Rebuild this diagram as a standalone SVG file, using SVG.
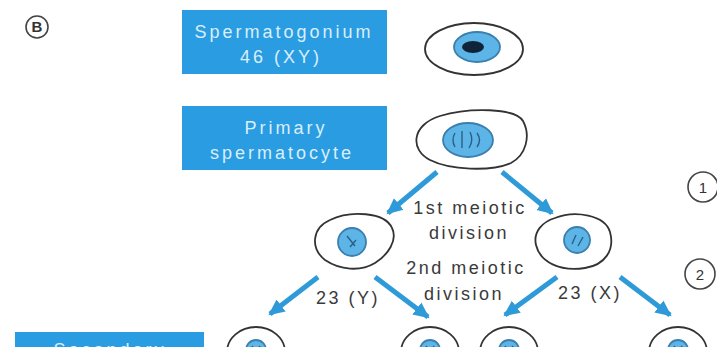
<svg xmlns="http://www.w3.org/2000/svg" width="717" height="347" viewBox="0 0 717 347">
  <defs>
    <marker id="head" markerUnits="userSpaceOnUse" markerWidth="18" markerHeight="18" refX="14" refY="9" orient="auto">
      <path d="M0,1.5 L16,9 L0,16.5 Z" fill="#2f9ad8"/>
    </marker>
    <style>
      .box { fill: #2a9de2; }
      .boxtxt { font-family: "Liberation Sans", Arial, sans-serif; font-size: 18px; fill: #d9eefb; letter-spacing: 3px; text-anchor: middle; }
      .lbl { font-family: "Liberation Sans", Arial, sans-serif; font-size: 18px; fill: #3a3a3a; letter-spacing: 2.5px; text-anchor: middle; }
      .cell { fill: #ffffff; stroke: #333333; stroke-width: 1.8; }
      .nuc { fill: #5db4e6; stroke: #3a7fae; stroke-width: 1.8; }
      .chrom { fill: none; stroke: #2a5f86; stroke-width: 1.4; }
      .arrow { stroke: #2f9ad8; stroke-width: 5; fill: none; marker-end: url(#head); }
      .tag { fill: #ffffff; stroke: #444444; stroke-width: 1.6; }
      .tagtxt { font-family: "Liberation Sans", Arial, sans-serif; font-size: 15px; fill: #333333; text-anchor: middle; }
    </style>
  </defs>

  <rect width="717" height="347" fill="#ffffff"/>

  <!-- panel tag -->
  <g id="tag-b">
    <circle class="tag" cx="37" cy="27" r="11"/>
    <text class="tagtxt" x="37" y="32" font-weight="bold">B</text>
  </g>

  <!-- label boxes -->
  <g id="box-spermatogonium">
    <rect class="box" x="182" y="10" width="205" height="64"/>
    <text class="boxtxt" x="284" y="38">Spermatogonium</text>
    <text class="boxtxt" x="281" y="63">46 (XY)</text>
  </g>
  <g id="box-primary">
    <rect class="box" x="182" y="106" width="205" height="64"/>
    <text class="boxtxt" x="286" y="134">Primary</text>
    <text class="boxtxt" x="282" y="159">spermatocyte</text>
  </g>
  <g id="box-secondary">
    <rect class="box" x="15" y="332" width="189" height="30"/>
    <text class="boxtxt" x="110" y="356">Secondary</text>
  </g>

  <!-- cells -->
  <g id="cell-spermatogonium">
    <ellipse class="cell" cx="474" cy="49" rx="49" ry="26"/>
    <ellipse class="nuc" cx="477" cy="47" rx="23" ry="15"/>
    <ellipse cx="473" cy="47" rx="11" ry="6" fill="#0f2438"/>
  </g>
  <g id="cell-primary">
    <path class="cell" d="M440 116 C470 107 515 108 523 121 C531 136 526 155 511 163 C490 172 450 170 430 160 C410 150 411 125 440 116 Z"/>
    <ellipse class="nuc" cx="468" cy="140" rx="25" ry="17"/>
    <path class="chrom" d="M455 133 q-4 7 0 14 M462 131 v17 M470 132 q4 8 -1 16 M477 133 q5 7 0 14"/>
  </g>
  <g id="cell-secondary-left">
    <path class="cell" d="M330 220 C350 210 385 212 392 228 C398 240 388 255 375 263 C360 272 340 270 325 260 C310 248 312 228 330 220 Z"/>
    <circle class="nuc" cx="352" cy="242" r="14"/>
    <path class="chrom" d="M347 236 l8 10 M350 247 l6 -7"/>
  </g>
  <g id="cell-secondary-right">
    <path class="cell" d="M555 218 C575 210 605 215 610 232 C615 250 605 265 585 268 C560 272 540 262 536 245 C533 232 542 222 555 218 Z"/>
    <circle class="nuc" cx="577" cy="240" r="13"/>
    <path class="chrom" d="M572 244 l4 -9 M578 246 l5 -9"/>
  </g>
  <g id="cell-spermatid-1">
    <ellipse class="cell" cx="256" cy="352" rx="29" ry="25"/>
    <circle class="nuc" cx="256" cy="350" r="10"/>
    <path class="chrom" d="M252 346 l4 6 l4 -6"/>
  </g>
  <g id="cell-spermatid-2">
    <ellipse class="cell" cx="430" cy="352" rx="29" ry="25"/>
    <circle class="nuc" cx="430" cy="350" r="10"/>
    <path class="chrom" d="M426 346 l4 6 l4 -6"/>
  </g>
  <g id="cell-spermatid-3">
    <ellipse class="cell" cx="509" cy="352" rx="29" ry="25"/>
    <circle class="nuc" cx="509" cy="350" r="10"/>
    <path class="chrom" d="M505 346 l4 6 l4 -6"/>
  </g>
  <g id="cell-spermatid-4">
    <ellipse class="cell" cx="678" cy="352" rx="29" ry="25"/>
    <circle class="nuc" cx="678" cy="350" r="10"/>
    <path class="chrom" d="M674 346 l4 6 l4 -6"/>
  </g>

  <!-- division labels -->
  <g id="labels">
    <text class="lbl" x="470" y="214">1st meiotic</text>
    <text class="lbl" x="469" y="239">division</text>
    <text class="lbl" x="466" y="274">2nd meiotic</text>
    <text class="lbl" x="464" y="300">division</text>
    <text class="lbl" x="348" y="304" font-size="16" letter-spacing="2">23 (Y)</text>
    <text class="lbl" x="590" y="299" font-size="16" letter-spacing="2">23 (X)</text>
  </g>

  <!-- step markers -->
  <g id="step-1">
    <circle class="tag" cx="703" cy="187" r="15"/>
    <text class="tagtxt" x="703" y="193" fill="#888">1</text>
  </g>
  <g id="step-2">
    <circle class="tag" cx="700" cy="274" r="15"/>
    <text class="tagtxt" x="700" y="280" fill="#666">2</text>
  </g>

  <!-- connectors -->
  <g id="connectors">
    <line class="arrow" x1="437" y1="172" x2="388" y2="213"/>
    <line class="arrow" x1="502" y1="172" x2="552" y2="213"/>
    <line class="arrow" x1="318" y1="277" x2="270" y2="314"/>
    <line class="arrow" x1="375" y1="277" x2="428" y2="317"/>
    <line class="arrow" x1="557" y1="277" x2="505" y2="315"/>
    <line class="arrow" x1="620" y1="277" x2="670" y2="315"/>
  </g>
</svg>
